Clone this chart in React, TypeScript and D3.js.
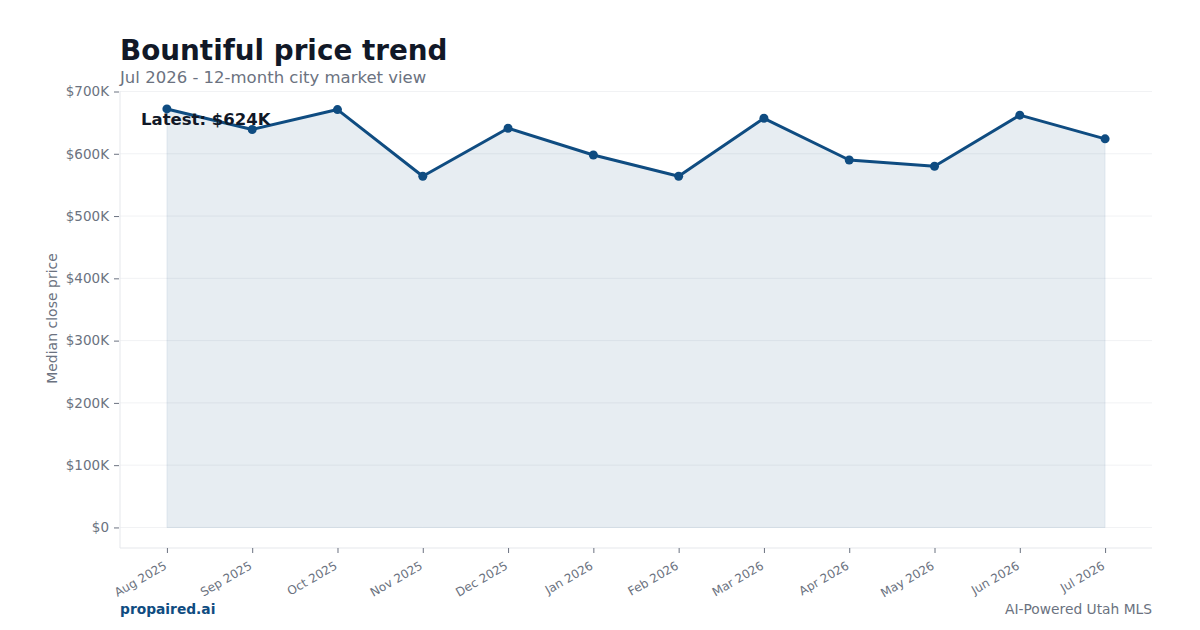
import React, { useEffect, useRef } from 'react';
import * as d3 from 'd3';

const months = [
  'Aug 2025', 'Sep 2025', 'Oct 2025', 'Nov 2025', 'Dec 2025', 'Jan 2026',
  'Feb 2026', 'Mar 2026', 'Apr 2026', 'May 2026', 'Jun 2026', 'Jul 2026',
];
const medianPrice = [672, 639, 671, 564, 641, 598, 564, 657, 590, 580, 662, 624].map(v => v * 1000);
const yTicks = [0, 100000, 200000, 300000, 400000, 500000, 600000, 700000];

const NAVY = '#0f4c81';
const GRAY = '#6b7280';

export default function App() {
  const svgRef = useRef<SVGSVGElement>(null);

  useEffect(() => {
    if (!svgRef.current) return;
    const root = d3.select(svgRef.current);
    root.selectAll('*').remove();

    const W = 1200;
    const H = 630;
    const plot = { left: 120, right: 1152, top: 91, bottom: 548 };
    const font = '"DejaVu Sans", sans-serif';

    const x = d3.scalePoint<string>()
      .domain(months)
      .range([plot.left, plot.right])
      .padding(0.55);

    const y = d3.scaleLinear()
      .domain([-33000, 700000])
      .range([plot.bottom, 91.5]);

    root.append('rect').attr('width', W).attr('height', H).attr('fill', '#ffffff');

    // Title + subtitle
    root.append('text')
      .attr('x', 120).attr('y', 60)
      .attr('font-family', font).attr('font-size', 27.8).attr('font-weight', 'bold')
      .attr('fill', '#111827')
      .text('Bountiful price trend');
    root.append('text')
      .attr('x', 120).attr('y', 83)
      .attr('font-family', font).attr('font-size', 16.5)
      .attr('fill', GRAY)
      .text('Jul 2026 - 12-month city market view');

    // Grid
    root.append('g')
      .selectAll('line')
      .data(yTicks)
      .join('line')
      .attr('x1', plot.left).attr('x2', plot.right)
      .attr('y1', d => y(d)).attr('y2', d => y(d))
      .attr('stroke', '#f1f2f4').attr('stroke-width', 1);

    // Plot borders (left + bottom)
    root.append('line')
      .attr('x1', plot.left).attr('x2', plot.left)
      .attr('y1', plot.top).attr('y2', plot.bottom)
      .attr('stroke', '#e5e7eb');
    root.append('line')
      .attr('x1', plot.left).attr('x2', plot.right)
      .attr('y1', plot.bottom).attr('y2', plot.bottom)
      .attr('stroke', '#e5e7eb');

    // Y axis
    const yAxis = root.append('g')
      .attr('transform', `translate(${plot.left - 1},0)`)
      .call(d3.axisLeft(y).tickValues(yTicks).tickSize(5).tickPadding(5)
        .tickFormat(d => (+d === 0 ? '$0' : `$${+d / 1000}K`)));
    yAxis.select('.domain').remove();
    yAxis.selectAll('line').attr('stroke', GRAY);
    yAxis.selectAll('text')
      .attr('fill', GRAY).attr('font-family', font).attr('font-size', 13.5);

    root.append('text')
      .attr('transform', `translate(57,${(plot.top + plot.bottom) / 2 - 1}) rotate(-90)`)
      .attr('text-anchor', 'middle')
      .attr('font-family', font).attr('font-size', 14)
      .attr('fill', GRAY)
      .text('Median close price');

    // X axis
    const xAxis = root.append('g')
      .attr('transform', `translate(0,${plot.bottom})`)
      .call(d3.axisBottom(x).tickSize(5).tickPadding(4));
    xAxis.select('.domain').remove();
    xAxis.selectAll('line').attr('stroke', GRAY);
    xAxis.selectAll('text')
      .attr('fill', GRAY).attr('font-family', font).attr('font-size', 12)
      .attr('text-anchor', 'end')
      .attr('x', 0).attr('y', 0)
      .attr('dy', '0.35em')
      .attr('transform', 'translate(-2,16.5) rotate(-30)');

    const pts = months.map((m, i) => ({ m, v: medianPrice[i] }));

    // Area
    const area = d3.area<{ m: string; v: number }>()
      .x(d => x(d.m) as number)
      .y0(y(0))
      .y1(d => y(d.v));
    root.append('path')
      .datum(pts)
      .attr('d', area)
      .attr('fill', NAVY).attr('fill-opacity', 0.1)
      .attr('stroke', NAVY).attr('stroke-opacity', 0.08).attr('stroke-width', 1);

    // Line
    const line = d3.line<{ m: string; v: number }>()
      .x(d => x(d.m) as number)
      .y(d => y(d.v));
    root.append('path')
      .datum(pts)
      .attr('d', line)
      .attr('fill', 'none')
      .attr('stroke', NAVY).attr('stroke-width', 3)
      .attr('stroke-linejoin', 'round');

    root.append('g')
      .selectAll('circle')
      .data(pts)
      .join('circle')
      .attr('cx', d => x(d.m) as number)
      .attr('cy', d => y(d.v))
      .attr('r', 4.5)
      .attr('fill', NAVY);

    // Latest annotation
    const last = medianPrice[medianPrice.length - 1];
    root.append('text')
      .attr('x', 141).attr('y', 125)
      .attr('font-family', font).attr('font-size', 16.5).attr('font-weight', 'bold')
      .attr('fill', '#111827')
      .text(`Latest: $${Math.round(last / 1000)}K`);

    // Footer
    root.append('text')
      .attr('x', 120).attr('y', 614)
      .attr('font-family', font).attr('font-size', 13.8).attr('font-weight', 'bold')
      .attr('fill', NAVY)
      .text('propaired.ai');
    root.append('text')
      .attr('x', 1152).attr('y', 614)
      .attr('text-anchor', 'end')
      .attr('font-family', font).attr('font-size', 13.8)
      .attr('fill', GRAY)
      .text('AI-Powered Utah MLS');
  }, []);

  return (
    <svg
      ref={svgRef}
      width={1200}
      height={630}
      style={{ position: 'absolute', left: 0, top: 0, display: 'block' }}
    />
  );
}
